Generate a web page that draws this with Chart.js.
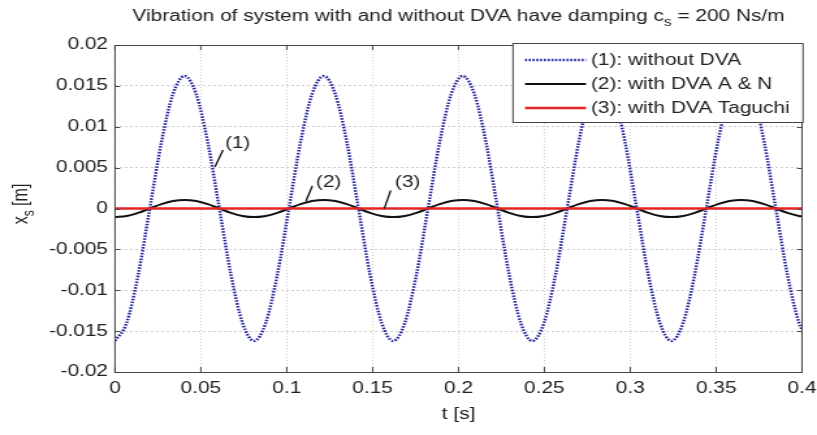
<!DOCTYPE html>
<html><head><meta charset="utf-8">
<script src="https://cdn.jsdelivr.net/npm/chart.js@4/dist/chart.umd.min.js"></script>
<style>html,body{margin:0;padding:0;background:#fff;overflow:hidden;}
#c{display:block;width:817px !important;height:435px !important;}</style>
</head><body>
<canvas id="c" width="628" height="435" style="width:817px;height:435px"></canvas>
<script>
// ---- data ----
const timeS = [
  0, 0.00675, 0.0135, 0.02025, 0.027, 0.03375, 0.0405, 0.04725, 0.054, 0.06075, 0.0675, 0.07425,
  0.081, 0.08775, 0.0945, 0.10125, 0.108, 0.11475, 0.1215, 0.12825, 0.135, 0.14175, 0.1485, 0.15525,
  0.162, 0.16875, 0.1755, 0.18225, 0.189, 0.19575, 0.2025, 0.20925, 0.216, 0.22275, 0.2295, 0.23625,
  0.243, 0.24975, 0.2565, 0.26325, 0.27, 0.27675, 0.2835, 0.29025, 0.297, 0.30375, 0.3105, 0.31725,
  0.324, 0.33075, 0.3375, 0.34425, 0.351, 0.35775, 0.3645, 0.37125, 0.378, 0.38475, 0.3915, 0.39825,
  0.4
];
const withoutDVA = [
  -0.0162, -0.0140, -0.0081, 0, 0.0081, 0.0140, 0.0162, 0.0140, 0.0081, 0, -0.0081, -0.0140,
  -0.0162, -0.0140, -0.0081, 0, 0.0081, 0.0140, 0.0162, 0.0140, 0.0081, 0, -0.0081, -0.0140,
  -0.0162, -0.0140, -0.0081, 0, 0.0081, 0.0140, 0.0162, 0.0140, 0.0081, 0, -0.0081, -0.0140,
  -0.0162, -0.0140, -0.0081, 0, 0.0081, 0.0140, 0.0162, 0.0140, 0.0081, 0, -0.0081, -0.0140,
  -0.0162, -0.0140, -0.0081, 0, 0.0081, 0.0140, 0.0162, 0.0140, 0.0081, 0, -0.0081, -0.0140,
  -0.0148
];
const withDVA_AN = [
  -0.00105, -0.00091, -0.00053, 0, 0.00053, 0.00091, 0.00105, 0.00091, 0.00053, 0, -0.00053, -0.00091,
  -0.00105, -0.00091, -0.00053, 0, 0.00053, 0.00091, 0.00105, 0.00091, 0.00053, 0, -0.00053, -0.00091,
  -0.00105, -0.00091, -0.00053, 0, 0.00053, 0.00091, 0.00105, 0.00091, 0.00053, 0, -0.00053, -0.00091,
  -0.00105, -0.00091, -0.00053, 0, 0.00053, 0.00091, 0.00105, 0.00091, 0.00053, 0, -0.00053, -0.00091,
  -0.00105, -0.00091, -0.00053, 0, 0.00053, 0.00091, 0.00105, 0.00091, 0.00053, 0, -0.00053, -0.00091,
  -0.00096
];
const taguchiTime = [0, 0.4];
const withDVA_Taguchi = [0, 0];
const xTicks = [0, 0.05, 0.1, 0.15, 0.2, 0.25, 0.3, 0.35, 0.4];
const yTicks = [-0.02, -0.015, -0.01, -0.005, 0, 0.005, 0.01, 0.015, 0.02];
const seriesLabels = ['(1): without DVA', '(2): with DVA A & N', '(3): with DVA Taguchi'];
const titleParts = ['Vibration of system with and without DVA have damping c', 's', ' = 200 Ns/m'];
const yTitleParts = ['x', 's', ' [m]'];
const xTitle = 't [s]';
const curveTags = [
  { text: '(1)', lineFrom: [0.0582, 0.0051], lineTo: [0.0629, 0.00716], textAt: [0.064, 0.0079] },
  { text: '(2)', lineFrom: [0.1112, 0.00092], lineTo: [0.1149, 0.00275], textAt: [0.117, 0.0032] },
  { text: '(3)', lineFrom: [0.1568, 0.00002], lineTo: [0.1605, 0.0022], textAt: [0.163, 0.0032] }
];

// the reference picture is horizontally stretched; the canvas is drawn narrower and shown at 817px
const S = 817 / 628;
const FONT = '"Liberation Sans", Arial, sans-serif';
const FS = 16;
const TXT = '#222';
const BLUE = '#2a2aa0', BLACK = '#111111', RED = '#e02626';
Chart.defaults.font.family = FONT;

const pts = (xs, ys) => xs.map((x, i) => ({ x: x, y: ys[i] }));
const fmt = (v, d) => String(Number(v.toFixed(d)));
const X = px => px / S;   // screen px -> canvas px (horizontal)

const decor = {
  id: 'decor',
  beforeDraw(chart) {
    const c = chart.ctx;
    c.save(); c.fillStyle = '#fff'; c.fillRect(0, 0, chart.width, chart.height); c.restore();
  },
  afterDraw(chart) {
    const c = chart.ctx, a = chart.chartArea, sx = chart.scales.x, sy = chart.scales.y;
    c.save();
    // box
    c.strokeStyle = '#444'; c.lineWidth = 1;
    c.strokeRect(a.left, Math.round(a.top) + 0.5, a.right - a.left, Math.round(a.bottom - a.top));
    // inward ticks
    c.beginPath();
    xTicks.forEach(v => {
      const px = sx.getPixelForValue(v);
      c.moveTo(px, a.bottom); c.lineTo(px, a.bottom - 5);
      c.moveTo(px, a.top); c.lineTo(px, a.top + 5);
    });
    yTicks.forEach(v => {
      const py = Math.round(sy.getPixelForValue(v)) + 0.5;
      c.moveTo(a.left, py); c.lineTo(a.left + X(5), py);
      c.moveTo(a.right, py); c.lineTo(a.right - X(5), py);
    });
    c.stroke();
    // curve tags
    c.strokeStyle = '#000'; c.lineWidth = 1.2; c.fillStyle = TXT;
    c.font = FS + 'px ' + FONT; c.textBaseline = 'middle'; c.textAlign = 'left';
    curveTags.forEach(t => {
      c.beginPath();
      c.moveTo(sx.getPixelForValue(t.lineFrom[0]), sy.getPixelForValue(t.lineFrom[1]));
      c.lineTo(sx.getPixelForValue(t.lineTo[0]), sy.getPixelForValue(t.lineTo[1]));
      c.stroke();
      c.fillText(t.text, sx.getPixelForValue(t.textAt[0]), sy.getPixelForValue(t.textAt[1]));
    });
    // legend
    const lx = X(513), ly = 43, lw = X(803) - X(513), lh = 79;
    c.fillStyle = '#fff'; c.fillRect(lx, ly, lw, lh);
    c.strokeStyle = '#444'; c.lineWidth = 1; c.strokeRect(lx, ly + 0.5, lw, lh);
    const styles = [
      { color: BLUE, width: 2.5, dash: [1.6, 1.3] },
      { color: BLACK, width: 2, dash: [] },
      { color: RED, width: 2.5, dash: [] }
    ];
    seriesLabels.forEach((lab, i) => {
      const y = 60 + i * 24;
      c.beginPath(); c.strokeStyle = styles[i].color; c.lineWidth = styles[i].width; c.setLineDash(styles[i].dash);
      c.moveTo(X(525), y); c.lineTo(X(586), y); c.stroke(); c.setLineDash([]);
      c.fillStyle = TXT; c.font = FS + 'px ' + FONT; c.textBaseline = 'middle'; c.textAlign = 'left';
      c.fillText(lab, X(591), y + 1);
    });
    // title with subscript
    const cx = (a.left + a.right) / 2;
    const drawSub = (parts, x0, y0) => {
      c.font = FS + 'px ' + FONT; const w0 = c.measureText(parts[0]).width;
      c.font = '12px ' + FONT; const w1 = c.measureText(parts[1]).width;
      c.font = FS + 'px ' + FONT; const w2 = c.measureText(parts[2]).width;
      let x = x0 - (w0 + w1 + w2) / 2;
      c.textAlign = 'left'; c.textBaseline = 'alphabetic'; c.fillStyle = TXT;
      c.font = FS + 'px ' + FONT; c.fillText(parts[0], x, y0); x += w0;
      c.font = '12px ' + FONT; c.fillText(parts[1], x, y0 + 5); x += w1;
      c.font = FS + 'px ' + FONT; c.fillText(parts[2], x, y0);
    };
    drawSub(titleParts, cx, 21);
    // x title
    c.font = FS + 'px ' + FONT; c.textAlign = 'center'; c.textBaseline = 'alphabetic'; c.fillStyle = TXT;
    c.fillText(xTitle, cx, 419);
    // y title rotated
    c.translate(X(27), 204);
    c.rotate(-Math.PI / 2);
    drawSub(yTitleParts, 0, 0);
    c.restore();
  }
};

new Chart(document.getElementById('c'), {
  type: 'line',
  data: {
    datasets: [
      { label: seriesLabels[0], data: pts(timeS, withoutDVA), borderColor: BLUE, borderWidth: 2.5,
        borderDash: [1.6, 1.3], pointRadius: 0, cubicInterpolationMode: 'monotone', fill: false, order: 2 },
      { label: seriesLabels[1], data: pts(timeS, withDVA_AN), borderColor: BLACK, borderWidth: 2,
        pointRadius: 0, cubicInterpolationMode: 'monotone', fill: false, order: 1 },
      { label: seriesLabels[2], data: pts(taguchiTime, withDVA_Taguchi), borderColor: RED, borderWidth: 2.5,
        pointRadius: 0, fill: false, order: 0 }
    ]
  },
  options: {
    responsive: false, animation: false, devicePixelRatio: 1,
    layout: { padding: { left: 0, right: 628 - X(802), top: 45, bottom: 0 } },
    plugins: { legend: { display: false }, title: { display: false }, tooltip: { enabled: false } },
    scales: {
      x: {
        type: 'linear', min: 0, max: 0.4,
        afterBuildTicks: s => { s.ticks = xTicks.map(v => ({ value: v })); },
        afterFit: s => { s.height = 63; s.paddingLeft = 0; s.paddingRight = 0; },
        ticks: { color: TXT, font: { size: FS }, padding: 7, maxRotation: 0, autoSkip: false,
                 callback: v => fmt(v, 2) },
        grid: { color: '#cdcdcd', lineWidth: 1, drawTicks: false },
        border: { display: false, dash: [1, 2] }
      },
      y: {
        type: 'linear', min: -0.02, max: 0.02,
        afterBuildTicks: s => { s.ticks = yTicks.map(v => ({ value: v })); },
        afterFit: s => { s.width = X(115); s.paddingTop = 0; s.paddingBottom = 0; },
        ticks: { color: TXT, font: { size: FS }, padding: X(7), autoSkip: false,
                 callback: v => fmt(v, 3) },
        grid: { color: '#cdcdcd', lineWidth: 1, drawTicks: false },
        border: { display: false, dash: [2, 2] }
      }
    }
  },
  plugins: [decor]
});
</script>
</body></html>
